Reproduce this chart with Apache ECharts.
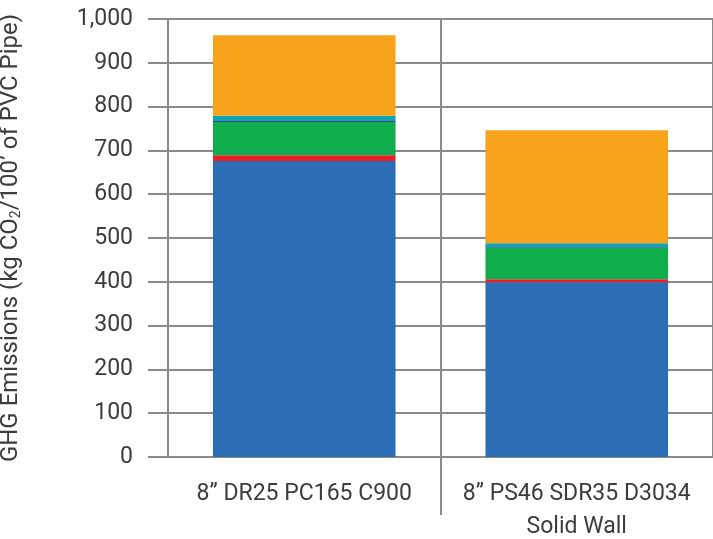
<!DOCTYPE html>
<html>
<head>
<meta charset="utf-8">
<script src="https://cdn.jsdelivr.net/npm/echarts@6/dist/echarts.min.js"></script>
<style>html,body{margin:0;padding:0;background:#fff}#c{width:713px;height:539px}</style>
</head>
<body>
<div id="c"></div>
<script>
const categories = ['8” DR25 PC165 C900', '8” PS46 SDR35 D3034\nSolid Wall'];
const blueVals = [676, 399];
const redVals = [13, 7];
const greenVals = [76, 71];
const purpleVals = [2, 2];
const tealVals = [12, 9];
const orangeVals = [184, 258];
const yTicks = [0, 100, 200, 300, 400, 500, 600, 700, 800, 900, 1000];

const FONT = '"Roboto", sans-serif';
const GRAY = '#8a8a8a';
const TXT = '#3c3c3c';
const FS = 23;

const seriesDefs = [
  {name: 'a', data: blueVals, color: '#2b6eb5'},
  {name: 'b', data: redVals, color: '#ec1d25'},
  {name: 'c', data: greenVals, color: '#0fad4b'},
  {name: 'd', data: purpleVals, color: '#51358f'},
  {name: 'e', data: tealVals, color: '#0ba6b3'},
  {name: 'f', data: orangeVals, color: '#f7a31c'}
];

const chart = echarts.init(document.getElementById('c'), null, {renderer: 'canvas'});
chart.setOption({
  animation: false,
  backgroundColor: '#fff',
  grid: {left: 168, right: 0, top: 19, bottom: 82, containLabel: false, outerBoundsMode: 'none'},
  xAxis: [{
    type: 'category',
    data: categories,
    position: 'bottom',
    axisLine: {show: true, lineStyle: {color: GRAY, width: 2}},
    axisTick: {show: false},
    splitLine: {show: true, lineStyle: {color: GRAY, width: 2}},
    axisLabel: {color: TXT, fontFamily: FONT, fontSize: FS, margin: 21, lineHeight: 33, interval: 0}
  }, {
    type: 'value',
    position: 'bottom',
    min: 0, max: categories.length, interval: 1,
    axisLine: {show: false},
    axisLabel: {show: false},
    splitLine: {show: false},
    axisTick: {show: true, length: 58, customValues: [1], lineStyle: {color: GRAY, width: 2}}
  }],
  yAxis: {
    type: 'value',
    min: yTicks[0],
    max: yTicks[yTicks.length - 1],
    interval: 100,
    name: '{a|GHG Emissions (kg CO}{s|2}{a|/100’ of PVC Pipe)}',
    nameLocation: 'middle',
    nameGap: 145,
    nameRotate: 90,
    nameTextStyle: {
      rich: {
        a: {color: TXT, fontFamily: FONT, fontSize: 24},
        s: {color: TXT, fontFamily: FONT, fontSize: 14, verticalAlign: 'bottom', padding: [10, 0, 0, 0]}
      }
    },
    axisLine: {show: true, lineStyle: {color: GRAY, width: 2}},
    axisTick: {show: true, length: 20, lineStyle: {color: GRAY, width: 2}},
    splitLine: {show: true, lineStyle: {color: GRAY, width: 2}},
    axisLabel: {
      color: TXT, fontFamily: FONT, fontSize: FS, margin: 35,
      formatter: function (v) { return v.toLocaleString('en-US'); }
    }
  },
  series: seriesDefs.map(s => ({
    type: 'bar',
    name: s.name,
    stack: 'total',
    barWidth: '67%',
    xAxisIndex: 0,
    data: s.data,
    itemStyle: {color: s.color},
    emphasis: {disabled: true}
  }))
});
</script>
</body>
</html>
